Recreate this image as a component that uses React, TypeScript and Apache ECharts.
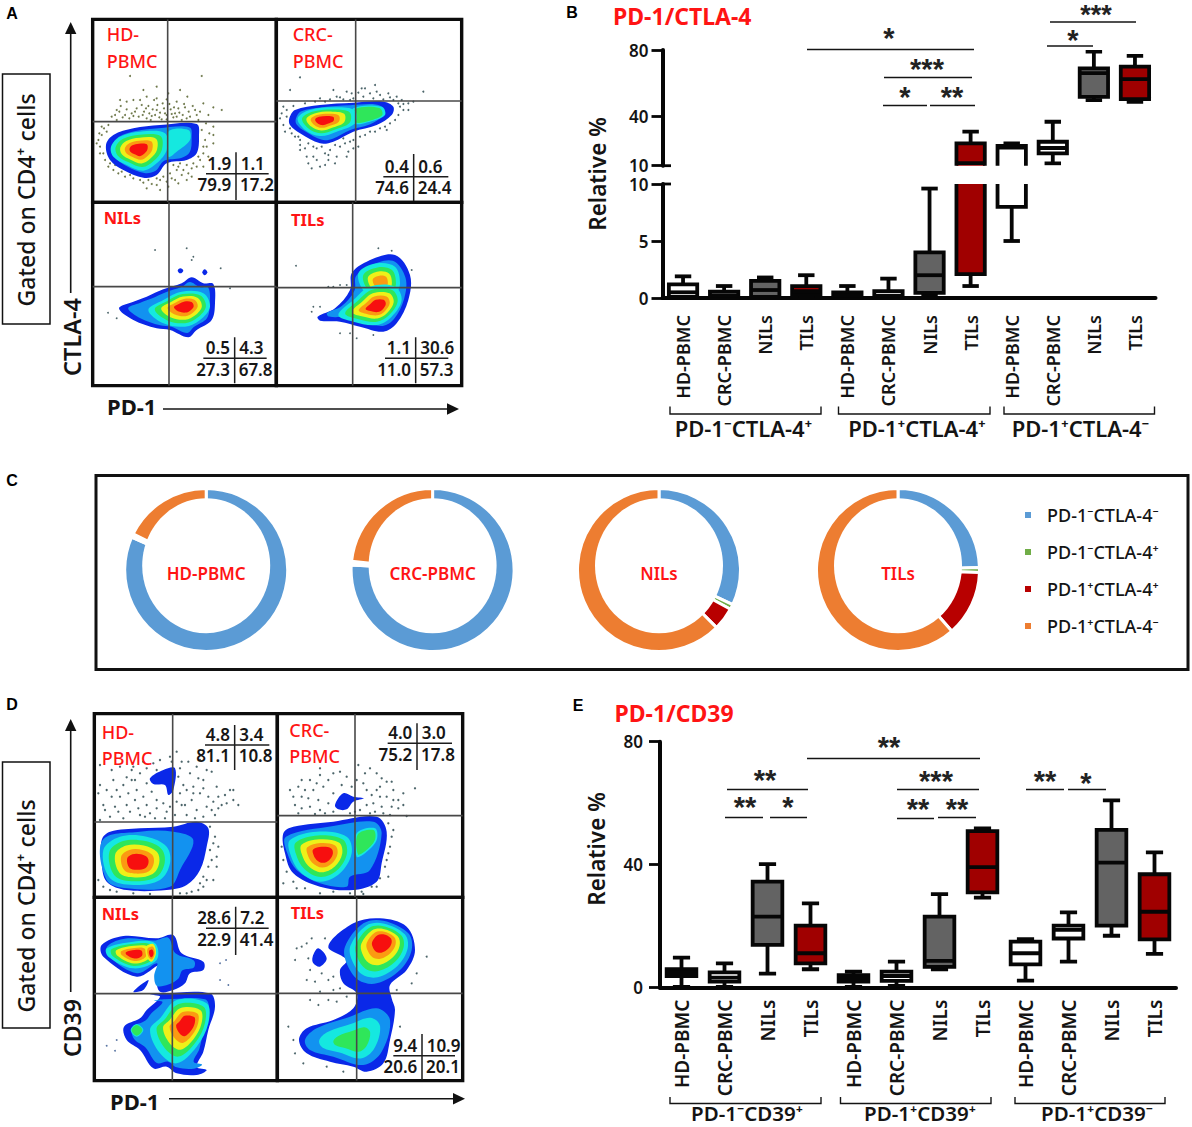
import React, { useEffect, useRef } from "react";
import * as echarts from "echarts";

const FONT = '"Noto Sans", "Open Sans", sans-serif';
const RED = "#ff1414";
const INK = "#141414";

// ---------- panels B / E data: [min, q1, median, q3, max] ----------
const boxCategories = ["HD-PBMC", "CRC-PBMC", "NILs", "TILs", "HD-PBMC", "CRC-PBMC", "NILs", "TILs", "HD-PBMC", "CRC-PBMC", "NILs", "TILs"];
const boxFills = ["#ffffff", "#ffffff", "#636363", "#a00000"];
const ctlaBoxes = [
  [0, 0.1, 0.5, 1.2, 1.9], [0, 0, 0.2, 0.55, 1.05], [0, 0.1, 0.7, 1.5, 1.8], [0.1, 0.3, 0.6, 1.05, 2],
  [0, 0, 0.2, 0.5, 1.05], [0, 0, 0.2, 0.6, 1.7], [0.3, 0.45, 2, 4, 9.6], [1.05, 2.1, 11.5, 23.5, 30.6],
  [5, 8, 21, 22, 23.5], [11.4, 17.5, 20.7, 24.5, 36.6], [49.7, 51.7, 66, 68.9, 79], [48.7, 50.3, 62.4, 70, 76.4],
];
const cd39Boxes = [
  [0.3, 3.8, 4.9, 6, 9.8], [0.3, 2, 3.3, 5, 7.9], [4.6, 13.9, 23.1, 34.5, 40.2], [6, 7.9, 11.2, 20.2, 27.4],
  [0.3, 2, 3, 4.1, 5.2], [0.6, 2.2, 3.8, 5.2, 8.5], [6, 6.8, 8.7, 23.1, 30.4], [29.3, 31, 39.2, 50.9, 51.8],
  [2.3, 7.6, 11.2, 15, 15.8], [8.5, 16, 18.8, 20.2, 24.5], [16.9, 20.2, 40.7, 51.3, 60.9], [11, 15.7, 24.7, 36.9, 44],
];
// [stars, starX, starY, lineX0, lineX1, lineY] in page pixels
const ctlaSig: [string, number, number, number, number, number][] = [
  ["*", 889, 34, 807, 974, 49.5], ["***", 927, 65, 884, 972, 77.5], ["*", 905, 93, 883, 927, 105.5],
  ["**", 952, 93, 930, 975, 105.5], ["***", 1096, 7, 1050, 1136, 22], ["*", 1073, 36, 1047, 1093, 46],
];
const cd39Sig: [string, number, number, number, number, number][] = [
  ["**", 889, 743, 807, 980, 758.5], ["**", 765, 776, 727, 808, 789.5], ["**", 745, 803, 725, 763, 817.5],
  ["*", 788, 803, 770, 807, 817.5], ["***", 936, 777, 897, 979, 789.5], ["**", 918, 805, 897, 934, 818.5],
  ["**", 957, 805, 938, 976, 817.5], ["**", 1045, 777, 1026, 1064, 789.5], ["*", 1086, 779, 1068, 1106, 789.5],
];
const ctlaGroups: [string, number, number, number][] = [
  ["PD-1⁻CTLA-4⁺", 670, 821, 743.5], ["PD-1⁺CTLA-4⁺", 838.5, 990, 917], ["PD-1⁺CTLA-4⁻", 1004, 1154.5, 1080.5],
];
const cd39Groups: [string, number, number, number][] = [
  ["PD-1⁻CD39⁺", 670, 821, 747], ["PD-1⁺CD39⁺", 840.5, 991, 920], ["PD-1⁺CD39⁻", 1015, 1165, 1097],
];

// ---------- panel C data: [neg/neg, neg/pos, pos/pos, pos/neg] ----------
const ringNames = ["PD-1⁻CTLA-4⁻", "PD-1⁻CTLA-4⁺", "PD-1⁺CTLA-4⁺", "PD-1⁺CTLA-4⁻"];
const ringColors = ["#5b9bd5", "#70ad47", "#b80000", "#ed7d31"];
const ringTitles = ["HD-PBMC", "CRC-PBMC", "NILs", "TILs"];
const ringCenters = [206.2, 432.6, 659, 898];
const ringValues = [
  [81.6, 0.35, 0.35, 17.7],
  [76, 0.3, 0.4, 23.3],
  [32, 1, 4.5, 62.5],
  [24.5, 1, 13, 61.5],
];

// ---------- flow plots: coordinates in 3x panel units ----------
const levelColors = ["#0a28e8", "#1292f0", "#15e8e0", "#2fe65a", "#eef019", "#fb9a12", "#f70f0f"];
type Blob = [number, number, number, number, number[][]]; // first level, last level, core x, core y, outline

const aHdBlobs: Blob[] = [
  [0, 1, 450, 440, [[318, 435], [340, 405], [400, 385], [480, 375], [590, 372], [597, 410], [590, 460], [560, 480], [500, 490], [470, 525], [430, 533], [370, 510], [330, 480]]],
  [2, 2, 530, 425, [[505, 395], [565, 390], [570, 420], [530, 455], [505, 470]]],
  [2, 6, 415, 448, [[333, 440], [360, 410], [420, 395], [495, 400], [500, 450], [470, 490], [430, 512], [380, 495], [340, 470]]],
];
const aCrcBlobs: Blob[] = [
  [0, 1, 1000, 360, [[868, 355], [885, 330], [960, 315], [1060, 308], [1150, 305], [1180, 320], [1175, 345], [1130, 375], [1060, 395], [1000, 425], [960, 430], [900, 400], [870, 375]]],
  [2, 3, 1100, 345, [[1060, 325], [1145, 320], [1155, 345], [1110, 365], [1060, 370]]],
  [2, 6, 970, 360, [[893, 355], [930, 330], [1010, 322], [1065, 332], [1065, 370], [1010, 395], [960, 408], [915, 390]]],
];
const aNilBlobs: Blob[] = [
  [0, 0, 541, 812, [[533, 812], [541, 805], [550, 812], [541, 820]]],
  [0, 0, 614, 817, [[607, 817], [614, 808], [622, 817], [614, 826]]],
  [0, 1, 540, 925, [[357, 925], [400, 905], [440, 890], [490, 868], [545, 850], [575, 832], [610, 850], [640, 852], [645, 910], [635, 960], [590, 990], [565, 1012], [510, 990], [470, 985], [400, 960]]],
  [2, 6, 558, 918, [[445, 930], [490, 900], [545, 875], [610, 880], [630, 920], [600, 960], [555, 980], [490, 970]]],
];
const aTilBlobs: Blob[] = [
  [0, 1, 1140, 880, [[953, 950], [1005, 925], [1050, 870], [1055, 820], [1100, 785], [1185, 765], [1230, 825], [1225, 900], [1190, 970], [1150, 995], [1080, 980], [1020, 965], [960, 962]]],
  [2, 5, 1143, 848, [[1075, 820], [1130, 790], [1185, 800], [1200, 850], [1185, 880], [1100, 880]]],
  [2, 6, 1135, 918, [[1015, 945], [1060, 900], [1110, 860], [1185, 860], [1205, 900], [1175, 950], [1130, 975], [1060, 965]]],
];
const dHdBlobs: Blob[] = [
  [0, 0, 490, 275, [[450, 265], [490, 240], [525, 235], [520, 300], [505, 315], [495, 285], [460, 282]]],
  [0, 0, 450, 500, [[305, 450], [330, 425], [420, 415], [520, 410], [590, 395], [625, 415], [620, 470], [600, 540], [560, 585], [500, 600], [380, 600], [320, 575], [305, 520]]],
  [1, 1, 430, 510, [[308, 450], [420, 425], [520, 425], [580, 450], [540, 540], [510, 590], [380, 595], [320, 570]]],
  [2, 6, 415, 518, [[310, 480], [360, 440], [440, 440], [500, 470], [510, 520], [480, 570], [400, 585], [330, 565]]],
];
const dCrcBlobs: Blob[] = [
  [0, 0, 1040, 330, [[1005, 345], [1030, 310], [1060, 320], [1092, 325], [1060, 335], [1040, 358], [1015, 358]]],
  [0, 0, 1000, 490, [[850, 430], [880, 410], [1000, 395], [1130, 380], [1160, 425], [1145, 520], [1130, 575], [1060, 600], [960, 590], [880, 550], [855, 490]]],
  [1, 1, 1000, 490, [[858, 440], [1000, 408], [1120, 395], [1145, 430], [1110, 540], [1050, 560], [1040, 590], [960, 580], [890, 540], [862, 490]]],
  [2, 3, 1095, 450, [[1070, 430], [1125, 415], [1130, 450], [1095, 490], [1070, 500]]],
  [2, 6, 972, 492, [[870, 450], [950, 425], [1040, 440], [1055, 490], [1020, 550], [960, 575], [900, 545], [870, 490]]],
];
const dNilBlobs: Blob[] = [
  [0, 0, 425, 885, [[400, 905], [445, 870], [430, 900]]],
  [0, 1, 420, 790, [[305, 765], [370, 738], [470, 745], [520, 735], [545, 790], [610, 815], [610, 840], [570, 850], [555, 880], [520, 900], [480, 905], [470, 870], [480, 825], [410, 860], [310, 800]]],
  [2, 6, 405, 792, [[320, 775], [400, 755], [465, 760], [470, 810], [400, 835], [325, 800]]],
  [4, 6, 455, 792, [[438, 770], [460, 762], [468, 790], [455, 815], [440, 800]]],
  [0, 1, 530, 1030, [[372, 1010], [420, 985], [440, 960], [480, 920], [450, 915], [490, 910], [630, 910], [645, 950], [625, 1020], [610, 1085], [590, 1130], [620, 1140], [590, 1155], [530, 1150], [500, 1130], [460, 1135], [420, 1080], [380, 1050]]],
  [2, 3, 410, 1020, [[392, 1020], [410, 1002], [430, 1020], [410, 1040]]],
  [2, 6, 565, 1000, [[450, 1020], [480, 985], [530, 930], [620, 940], [625, 1000], [590, 1070], [530, 1120], [480, 1090]]],
];
const dTilBlobs: Blob[] = [
  [0, 0, 958, 802, [[938, 800], [955, 775], [980, 805], [960, 830], [940, 820]]],
  [0, 0, 1120, 900, [[985, 770], [1060, 700], [1140, 685], [1220, 710], [1245, 780], [1220, 840], [1170, 885], [1175, 925], [1185, 960], [1170, 1050], [1150, 1120], [1100, 1145], [1060, 1130], [990, 1115], [920, 1090], [897, 1050], [920, 1015], [1000, 990], [1060, 955], [1070, 910], [1030, 880], [1020, 840], [1040, 810]]],
  [1, 6, 1150, 750, [[1035, 770], [1090, 700], [1150, 692], [1225, 730], [1235, 780], [1200, 840], [1130, 880], [1075, 870], [1040, 820]]],
  [1, 3, 1065, 1055, [[915, 1050], [950, 1015], [1050, 980], [1130, 955], [1170, 990], [1145, 1085], [1090, 1125], [1000, 1100], [930, 1080]]],
];

const aHdDots = [[390, 228], [350, 330], [362, 318], [375, 345], [395, 340], [410, 325], [420, 300], [432, 335], [445, 318], [455, 348], [462, 300], [470, 330], [478, 352], [488, 310], [495, 340], [505, 280], [512, 328], [520, 352], [530, 305], [538, 338], [545, 360], [555, 322], [562, 290], [570, 350], [585, 330], [595, 360], [605, 228], [610, 310], [625, 345], [640, 322], [665, 330], [430, 270], [470, 260], [540, 270], [400, 300], [335, 350], [350, 360], [440, 355], [500, 358], [525, 340], [295, 420], [300, 440], [305, 405], [310, 460], [298, 400], [312, 385], [325, 375], [315, 480], [325, 500], [605, 390], [615, 420], [628, 400], [640, 405], [610, 460], [620, 440], [600, 480], [560, 495], [575, 505], [530, 510], [545, 525], [510, 520], [525, 540], [500, 545], [480, 540], [455, 552], [430, 548], [400, 535], [375, 530], [355, 520], [340, 510], [470, 555], [590, 500], [540, 490],
  [345, 345], [358, 335], [368, 352], [380, 328], [388, 355], [400, 348], [405, 335], [416, 350], [425, 315], [428, 345], [438, 325], [448, 340], [452, 360], [458, 328], [465, 345], [472, 315], [480, 338], [485, 358], [492, 325], [500, 345], [508, 312], [515, 342], [522, 322], [530, 350], [535, 325], [548, 345], [552, 312], [560, 355], [566, 335], [578, 318], [590, 345], [600, 335], [470, 295], [440, 290], [500, 298], [380, 305], [360, 300], [520, 495], [535, 500], [550, 510], [565, 520], [580, 490], [595, 470], [610, 500], [490, 530], [470, 535], [445, 540], [420, 540], [390, 525], [365, 515], [345, 495], [330, 490], [515, 535], [535, 550], [560, 540], [575, 530], [505, 560], [480, 570], [440, 565], [610, 440], [625, 470], [640, 430], [300, 460], [290, 430], [305, 380], [320, 395], [640, 380], [618, 370]];
const aCrcDots = [[900, 232], [870, 270], [1000, 270], [1010, 290], [1040, 275], [1075, 278], [1095, 265], [1125, 255], [1140, 285], [1110, 280], [1165, 280], [1190, 290], [1205, 300], [1225, 310], [1270, 275], [960, 295], [990, 298], [1030, 298], [1060, 295], [1150, 298], [1180, 300], [850, 320], [845, 340], [860, 350], [850, 375], [870, 385], [885, 410], [900, 420], [925, 430], [950, 445], [940, 470], [975, 460], [990, 450], [1020, 440], [1050, 425], [1080, 410], [1110, 395], [1140, 385], [1170, 370], [1195, 345], [1210, 330], [925, 490], [960, 500], [1010, 470], [1045, 455], [1075, 440], [900, 450], [985, 480], [1030, 415], [1160, 390], [935, 505],
  [1020, 292], [1050, 300], [1090, 290], [1120, 295], [1170, 292], [1195, 310], [1210, 312], [975, 305], [945, 305], [915, 310], [880, 318], [860, 330], [840, 355], [855, 395], [875, 400], [895, 410], [915, 445], [940, 440], [965, 440], [985, 465], [1005, 435], [1035, 430], [1060, 420], [1095, 405], [1125, 395], [1155, 380], [1185, 360], [1200, 320], [950, 480], [975, 495], [1005, 490], [1040, 470], [1060, 445], [900, 435], [920, 470], [1225, 330], [1240, 305], [1130, 275], [1085, 265], [1055, 280]];
const aNilDots = [[560, 745], [465, 750], [575, 780], [662, 805], [350, 955], [690, 865], [580, 770], [324, 938]];
const aTilDots = [[888, 797], [1135, 745], [1175, 752], [1000, 860], [1020, 855], [1040, 855], [985, 860], [940, 920], [935, 935], [960, 920], [1235, 810], [1230, 860], [1050, 1000], [1070, 1015], [1020, 1000], [1120, 1005]];
const dHdDots = [[530, 185], [480, 210], [545, 215], [400, 230], [420, 250], [440, 235], [380, 262], [340, 270], [300, 285], [320, 300], [350, 300], [385, 310], [410, 300], [430, 320], [455, 305], [470, 330], [490, 340], [510, 350], [535, 260], [550, 285], [570, 250], [590, 230], [610, 270], [635, 245], [650, 290], [675, 315], [700, 330], [715, 345], [600, 310], [575, 330], [545, 345], [525, 375], [560, 375], [590, 360], [620, 350], [645, 375], [665, 345], [450, 370], [415, 355], [380, 345], [345, 350], [310, 345], [330, 380], [370, 385], [435, 380], [295, 310], [630, 410], [645, 440], [630, 480], [650, 500], [625, 530], [610, 560], [595, 600], [560, 610], [610, 590], [640, 570], [310, 590], [350, 605], [400, 610],
  [300, 225], [335, 240], [360, 230], [395, 270], [360, 320], [405, 330], [440, 345], [470, 355], [500, 365], [540, 310], [560, 300], [580, 290], [595, 265], [610, 295], [625, 320], [640, 335], [655, 355], [680, 340], [690, 300], [620, 240], [600, 210], [565, 215], [510, 200], [470, 240], [440, 280], [405, 270], [370, 285], [335, 320], [315, 360], [355, 365], [390, 365], [420, 375], [465, 385], [495, 385], [555, 345], [580, 310], [540, 235], [515, 215], [530, 335], [585, 385], [610, 380], [635, 360], [460, 220], [430, 215], [395, 240], [655, 320], [700, 300], [300, 390], [640, 460], [655, 470], [635, 510], [650, 530], [620, 570], [600, 580], [575, 605], [540, 610], [450, 612], [330, 600], [295, 570]];
const dCrcDots = [[1075, 225], [1095, 250], [1130, 250], [1160, 275], [1180, 300], [1245, 295], [1195, 330], [1175, 350], [1150, 370], [1120, 340], [1100, 300], [1070, 270], [1040, 260], [1000, 250], [960, 255], [930, 270], [895, 290], [880, 320], [905, 320], [940, 300], [970, 290], [1000, 310], [985, 340], [960, 360], [930, 350], [905, 355], [1080, 360], [1050, 370], [1110, 370], [1140, 320], [1160, 320], [1220, 378], [1165, 400], [1175, 440], [1165, 490], [1155, 530], [1140, 565], [1115, 590], [850, 510], [860, 545], [880, 575], [915, 595], [1000, 605], [1050, 610], [1085, 605],
  [905, 270], [960, 235], [1020, 245], [1110, 235], [1145, 265], [1175, 275], [1210, 310], [1140, 290], [1115, 315], [1090, 280], [1055, 290], [1025, 285], [985, 270], [950, 280], [915, 300], [885, 345], [870, 300], [925, 325], [955, 330], [1000, 365], [975, 370], [945, 372], [895, 370], [1125, 365], [1100, 345], [1170, 375], [1195, 355], [1210, 345], [1180, 330], [1130, 300], [1145, 350], [1065, 365], [1180, 420], [1170, 470], [1160, 510], [1165, 560], [1130, 590], [1090, 612], [960, 610], [890, 595], [850, 580], [845, 470]];
const dNilDots = [[678, 810], [660, 870], [685, 885], [350, 1050], [320, 1067], [345, 1082], [660, 820]];
const dTilDots = [[890, 775], [905, 770], [920, 760], [935, 745], [975, 745], [885, 810], [925, 805], [930, 840], [920, 870], [945, 875], [965, 850], [985, 870], [1000, 860], [1020, 895], [1000, 900], [960, 905], [930, 930], [955, 945], [985, 930], [1010, 935], [1040, 920], [865, 1010], [880, 1050], [885, 1090], [910, 1120], [980, 1130], [1030, 1145], [1280, 800], [1250, 850], [1235, 880], [1190, 900], [1200, 1010]];

type Flow = {
  rect: number[]; offY: number; gate: number[]; table: number[]; stats: string[];
  blobs: Blob[]; dots: number[][]; dotColor: string; dotSize: number; labels: [string, number, number][]; bold?: boolean;
};
const flowPanels: Flow[] = [
  { rect: [278, 829, 58, 607], offY: 0, gate: [503, 365], table: [708, 521, 457, 600, 618, 806], stats: ["1.9", "1.1", "79.9", "17.2"], blobs: aHdBlobs, dots: aHdDots, dotColor: "#55602c", dotSize: 2, labels: [["HD-", 320, 103], ["PBMC", 320, 183]] },
  { rect: [829, 1385, 58, 607], offY: 0, gate: [1067, 303], table: [1241, 530, 462, 603, 1150, 1345], stats: ["0.4", "0.6", "74.6", "24.4"], blobs: aCrcBlobs, dots: aCrcDots, dotColor: "#2d4a50", dotSize: 2, labels: [["CRC-", 878, 103], ["PBMC", 878, 183]] },
  { rect: [278, 829, 607, 1157], offY: 0, gate: [507, 860], table: [704, 1075, 1012, 1150, 610, 800], stats: ["0.5", "4.3", "27.3", "67.8"], blobs: aNilBlobs, dots: aNilDots, dotColor: "#2d4a50", dotSize: 1.8, labels: [["NILs", 311, 652]], bold: true },
  { rect: [829, 1385, 607, 1157], offY: 0, gate: [1058, 863], table: [1247, 1075, 1012, 1150, 1155, 1345], stats: ["1.1", "30.6", "11.0", "57.3"], blobs: aTilBlobs, dots: aTilDots, dotColor: "#2d4a50", dotSize: 1.8, labels: [["TILs", 873, 658]], bold: true },
  { rect: [283, 832, 71, 622], offY: 690, gate: [518, 396], table: [704, 165, 105, 240, 615, 808], stats: ["4.8", "3.4", "81.1", "10.8"], blobs: dHdBlobs, dots: dHdDots, dotColor: "#2d4a50", dotSize: 2.3, labels: [["HD-", 305, 126], ["PBMC", 305, 203]] },
  { rect: [832, 1388, 71, 622], offY: 690, gate: [1065, 377], table: [1251, 160, 100, 240, 1163, 1356], stats: ["4.0", "3.0", "75.2", "17.8"], blobs: dCrcBlobs, dots: dCrcDots, dotColor: "#2d4a50", dotSize: 2.3, labels: [["CRC-", 868, 121], ["PBMC", 868, 197]] },
  { rect: [283, 832, 622, 1172], offY: 690, gate: [517, 911], table: [707, 715, 650, 795, 618, 806], stats: ["28.6", "7.2", "22.9", "41.4"], blobs: dNilBlobs, dots: dNilDots, dotColor: "#3a5a90", dotSize: 1.8, labels: [["NILs", 305, 670]], bold: true },
  { rect: [832, 1388, 622, 1172], offY: 690, gate: [1070, 910], table: [1266, 1097, 1032, 1170, 1180, 1365], stats: ["9.4", "10.9", "20.6", "20.1"], blobs: dTilBlobs, dots: dTilDots, dotColor: "#2d4a50", dotSize: 2, labels: [["TILs", 872, 668]], bold: true },
];

// ---------- helpers ----------
const Z = 100;
const ln = (x1: number, y1: number, x2: number, y2: number, w = 1.5, c = INK) => ({
  type: "line", z: Z, silent: true, shape: { x1, y1, x2, y2 }, style: { stroke: c, lineWidth: w },
});
const tx = (text: string, x: number, y: number, o: any = {}) => ({
  type: "text", z: Z + 1, silent: true, x, y, rotation: o.rotation || 0,
  style: {
    text, fontFamily: o.family || FONT, fontSize: o.size || 16, fontWeight: o.weight || "normal",
    fill: o.color || INK, align: o.align || "left", verticalAlign: o.valign || "middle",
  },
});

function boxRender(fills: string[], floor: number) {
  return (params: any, api: any) => {
    const i = api.value(0);
    if (api.value(5) <= floor) return null;
    const x = api.coord([i, 0])[0];
    const band = api.size([1, 0])[0];
    const half = band * 0.345;
    const cap = band * 0.2;
    const y = [1, 2, 3, 4, 5].map((k) => api.coord([i, api.value(k)])[1]);
    const stroke = { stroke: "#060606", lineWidth: 3.8 };
    const seg = (x1: number, y1: number, x2: number, y2: number) => ({ type: "line", shape: { x1, y1, x2, y2 }, style: stroke });
    return {
      type: "group",
      children: [
        seg(x, y[0], x, y[1]), seg(x, y[3], x, y[4]),
        seg(x - cap, y[0], x + cap, y[0]), seg(x - cap, y[4], x + cap, y[4]),
        { type: "rect", shape: { x: x - half, y: y[3], width: half * 2, height: y[1] - y[3] }, style: { fill: fills[i % 4], ...stroke } },
        seg(x - half, y[2], x + half, y[2]),
      ],
    };
  };
}

function blobRender(blobs: Blob[]) {
  return (params: any, api: any) => {
    const [from, to, cx, cy, pts] = blobs[params.dataIndex];
    const n = to - from + 1;
    const step = n <= 2 ? 0.15 : 0.85 / n;
    const children: any[] = [];
    for (let k = 0; k < n; k++) {
      const s = 1 - k * step;
      children.push({
        type: "polygon",
        shape: { points: pts.map((p) => api.coord([cx + (p[0] - cx) * s, cy + (p[1] - cy) * s])), smooth: 0.35 },
        style: { fill: levelColors[from + k] },
      });
    }
    return { type: "group", children };
  };
}

function segRender(params: any, api: any) {
  const a = api.coord([api.value(0), api.value(1)]);
  const b = api.coord([api.value(2), api.value(3)]);
  const kind = api.value(4);
  return {
    type: "line", shape: { x1: a[0], y1: a[1], x2: b[0], y2: b[1] },
    style: { stroke: kind ? "#1c1c1c" : "#484848", lineWidth: kind ? 1.5 : 1.6 },
  };
}

function buildOption() {
  const grid: any[] = [];
  const xAxis: any[] = [];
  const yAxis: any[] = [];
  const series: any[] = [];
  const g: any[] = [];

  // ----- flow panels
  flowPanels.forEach((p) => {
    const gi = grid.length;
    const [x0, x1, y0, y1] = p.rect;
    grid.push({ left: x0 / 3, top: p.offY + y0 / 3, width: (x1 - x0) / 3, height: (y1 - y0) / 3, show: true, borderColor: "#0c0c0c", borderWidth: 3.4, backgroundColor: "transparent" });
    xAxis.push({ gridIndex: gi, type: "value", min: x0, max: x1, show: false });
    yAxis.push({ gridIndex: gi, type: "value", min: y0, max: y1, inverse: true, show: false });
    series.push({
      type: "scatter", xAxisIndex: gi, yAxisIndex: gi, data: p.dots, symbolSize: p.dotSize, silent: true, z: 1,
      itemStyle: { color: p.dotColor, opacity: 0.85 },
    });
    series.push({
      type: "custom", xAxisIndex: gi, yAxisIndex: gi, clip: true, silent: true, z: 2,
      data: p.blobs.map((b, i) => [b[2], b[3], i]), encode: { x: 0, y: 1 }, renderItem: blobRender(p.blobs),
    });
    const [vx, hy, ty0, ty1, hx0, hx1] = p.table;
    series.push({
      type: "custom", xAxisIndex: gi, yAxisIndex: gi, clip: true, silent: true, z: 3,
      encode: { x: [0, 2], y: [1, 3] }, renderItem: segRender,
      data: [
        [p.gate[0], y0, p.gate[0], y1, 0], [x0, p.gate[1], x1, p.gate[1], 0],
        [vx, ty0, vx, ty1, 1], [hx0, hy, hx1, hy, 1],
      ],
    });
    const numY = (d: number) => p.offY + (hy + d) / 3;
    const o = { size: 17, weight: 600, color: "#161616" };
    g.push(tx(p.stats[0], (vx - 14) / 3, numY(-32), { ...o, align: "right" }));
    g.push(tx(p.stats[1], (vx + 14) / 3, numY(-32), o));
    g.push(tx(p.stats[2], (vx - 14) / 3, numY(32), { ...o, align: "right" }));
    g.push(tx(p.stats[3], (vx + 12) / 3, numY(32), o));
    p.labels.forEach(([t, lx, ly]) => g.push(tx(t, lx / 3, p.offY + ly / 3, { size: p.bold ? 16.5 : 18, color: RED, weight: p.bold ? 700 : 500 })));
  });

  // ----- box plots
  const boxAxisX = (gi: number, show: boolean, size: number, margin: number) => ({
    gridIndex: gi, type: "category", data: boxCategories, show,
    axisLine: { lineStyle: { color: "#060606", width: 4 }, onZero: false },
    axisTick: { alignWithLabel: true, length: 8, lineStyle: { color: "#060606", width: 3.2 } },
    axisLabel: { interval: 0, rotate: 90, margin, fontFamily: FONT, fontSize: size, fontWeight: 600, color: INK },
  });
  const yStyle = (right: number) => ({
    axisLine: { show: true, lineStyle: { color: "#060606", width: 4 } },
    axisTick: { show: true, length: 11, lineStyle: { color: "#060606", width: 2.8 } },
    axisLabel: { margin: right, fontFamily: FONT, fontSize: 17, fontWeight: 600, color: INK },
    splitLine: { show: false },
  });
  const addBoxSeries = (gi: number, rows: number[][], floor: number) =>
    series.push({
      type: "custom", xAxisIndex: gi, yAxisIndex: gi, clip: true, silent: true, z: 4,
      encode: { x: 0, y: [1, 2, 3, 4, 5] }, renderItem: boxRender(boxFills, floor),
      data: rows.map((r, i) => [i, ...r]),
    });

  // panel B, lower part 0-10
  let gi = grid.length;
  grid.push({ left: 662.5, width: 493, top: 184, height: 114 });
  xAxis.push(boxAxisX(gi, true, 18, 17));
  yAxis.push({ gridIndex: gi, type: "value", min: 0, max: 10, interval: 5, ...yStyle(14) });
  addBoxSeries(gi, ctlaBoxes, -1);
  // panel B, upper part 10-80
  gi = grid.length;
  grid.push({ left: 662.5, width: 493, top: 50, height: 115.7 });
  xAxis.push(boxAxisX(gi, false, 18, 17));
  const up = yStyle(14);
  yAxis.push({
    gridIndex: gi, type: "value", min: 10, max: 80, ...up,
    axisTick: { ...up.axisTick, customValues: [10, 40, 80] },
    axisLabel: { ...up.axisLabel, customValues: [10, 40, 80] },
  });
  addBoxSeries(gi, ctlaBoxes, 10);
  // panel E
  gi = grid.length;
  grid.push({ left: 660, width: 516, top: 741.7, height: 246 });
  xAxis.push(boxAxisX(gi, true, 19, 12));
  yAxis.push({ gridIndex: gi, type: "value", min: 0, max: 80, interval: 40, ...yStyle(17) });
  addBoxSeries(gi, cd39Boxes, -1);

  const sig = (rows: typeof ctlaSig) =>
    rows.forEach(([s, sx, sy, a, b, y]) => {
      g.push(ln(a, y, b, y, 1.7));
      // the topmost stars sit against the page edge, so they are a little smaller and lower
      const atEdge = sy < 10;
      g.push(tx(s, sx, atEdge ? 15 : sy + 3.6, { family: '"Liberation Sans", sans-serif', size: atEdge ? 27 : 29, weight: 700, align: "center", color: "#222" }));
    });
  sig(ctlaSig);
  sig(cd39Sig);
  const brackets = (rows: typeof ctlaGroups, top: number, bottom: number, labelY: number, size: number) =>
    rows.forEach(([t, a, b, c]) => {
      g.push({ type: "polyline", z: Z, silent: true, shape: { points: [[a, top], [a, bottom], [b, bottom], [b, top]] }, style: { stroke: INK, lineWidth: 1.4, fill: "none" } });
      g.push(tx(t, c, labelY, { size, weight: 600, align: "center" }));
    });
  brackets(ctlaGroups, 406.5, 414, 428, 22);
  brackets(cd39Groups, 1097, 1103.5, 1112.5, 20.5);

  // small break ticks on the spine of B
  g.push(ln(662, 165.7, 671, 165.7, 2.8, "#060606"));
  g.push(ln(662, 184, 671, 184, 2.8, "#060606"));

  // titles and axis names
  g.push(tx("PD-1/CTLA-4", 613, 15.5, { size: 23, weight: 700, color: RED }));
  g.push(tx("PD-1/CD39", 614.5, 713, { size: 23, weight: 700, color: RED }));
  g.push(tx("Relative %", 597, 174, { size: 22.5, weight: 600, align: "center", rotation: Math.PI / 2 }));
  g.push(tx("Relative %", 596, 849, { size: 22.5, weight: 600, align: "center", rotation: Math.PI / 2 }));
  const letter = { family: '"Liberation Sans", sans-serif', size: 16, weight: 700, color: "#000", align: "center" };
  g.push(tx("A", 12, 13, letter), tx("B", 572, 12, letter), tx("C", 12, 480, letter), tx("D", 12, 704, letter), tx("E", 578, 705, letter));

  // left gutter of A and D
  const gutter = (boxTop: number, boxH: number, textY: number, name: string, nameSize: number, nameY: number, arrowTop: number, arrowBottom: number, pdX: number, pdY: number, arrX0: number, arrX1: number, arrY: number) => {
    g.push({ type: "rect", z: Z, silent: true, shape: { x: 2.5, y: boxTop, width: 47.5, height: boxH }, style: { fill: "#fff", stroke: "#111", lineWidth: 1.5 } });
    g.push(tx("Gated on CD4⁺ cells", 26, textY, { size: 23, weight: 500, align: "center", rotation: Math.PI / 2 }));
    g.push(tx(name, 72, nameY, { size: nameSize, weight: 600, align: "center", rotation: Math.PI / 2 }));
    g.push(ln(70.7, arrowBottom, 70.7, arrowTop + 8, 1.6));
    g.push({ type: "polygon", z: Z, silent: true, shape: { points: [[70.7, arrowTop], [65, arrowTop + 12], [76.4, arrowTop + 12]] }, style: { fill: "#111" } });
    g.push(tx("PD-1", pdX, pdY, { size: 22, weight: 700 }));
    g.push(ln(arrX0, arrY, arrX1 - 8, arrY, 1.6));
    g.push({ type: "polygon", z: Z, silent: true, shape: { points: [[arrX1, arrY], [arrX1 - 12, arrY - 5.7], [arrX1 - 12, arrY + 5.7]] }, style: { fill: "#111" } });
  };
  gutter(74, 250, 200, "CTLA-4", 23.5, 337, 22, 293, 107, 406, 163, 459, 409);
  gutter(762, 266, 906, "CD39", 23, 1028, 719, 992, 110, 1101, 169, 465, 1098.7);

  // ----- panel C
  g.push({ type: "rect", z: Z, silent: true, shape: { x: 96, y: 475.5, width: 1092, height: 194 }, style: { fill: "transparent", stroke: "#111", lineWidth: 3 } });
  ringValues.forEach((vals, i) => {
    series.push({
      type: "pie", radius: [58, 81.5], center: [ringCenters[i], 570], startAngle: 90, clockwise: true, silent: true,
      label: { show: false }, labelLine: { show: false }, z: 2,
      itemStyle: { borderColor: "#fff", borderWidth: 3 },
      data: vals.map((v, k) => ({ name: ringNames[k], value: v, itemStyle: { color: ringColors[k] } })),
    });
    // the hole of each ring sits a little above its centre in the reference
    g.push({ type: "ellipse", z: Z - 1, silent: true, shape: { cx: ringCenters[i], cy: 565.7, rx: 64, ry: 67.5 }, style: { fill: "#fff" } });
    g.push(tx(ringTitles[i], ringCenters[i], 573, { size: 17, weight: 600, color: RED, align: "center" }));
  });

  return {
    animation: false,
    backgroundColor: "#ffffff",
    textStyle: { fontFamily: FONT },
    grid, xAxis, yAxis, series,
    legend: {
      show: true, orient: "vertical", left: 1018, top: 501, itemWidth: 8, itemHeight: 8, icon: "rect", itemGap: 19,
      selectedMode: false, data: ringNames,
      textStyle: { fontFamily: FONT, fontSize: 18, fontWeight: 500, color: INK, padding: [0, 0, 0, 10] },
    },
    graphic: { elements: g },
  };
}

export default function App() {
  const ref = useRef<HTMLDivElement>(null);
  useEffect(() => {
    const chart = echarts.init(ref.current!, undefined, { renderer: "svg" });
    chart.setOption(buildOption() as any);
    return () => chart.dispose();
  }, []);
  return <div ref={ref} style={{ position: "absolute", left: 0, top: 0, width: 1192, height: 1127 }} />;
}
